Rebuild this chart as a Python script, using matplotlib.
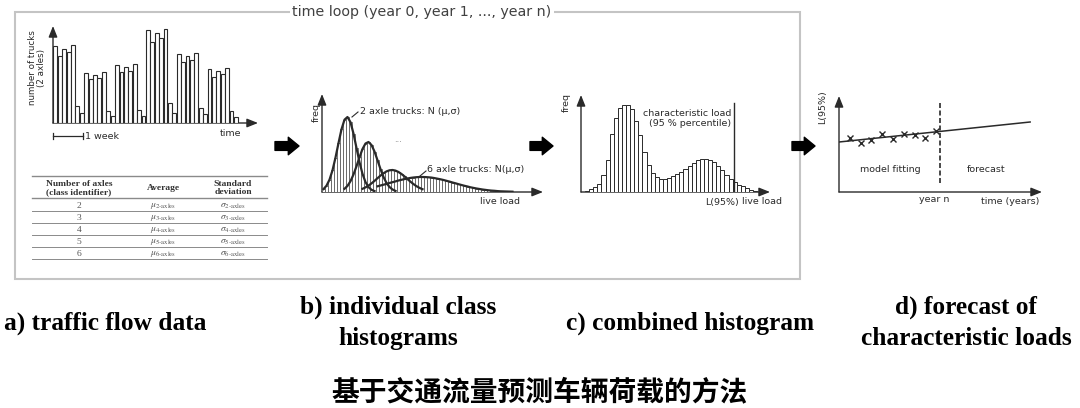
import matplotlib.pyplot as plt
from matplotlib.patches import Rectangle
import numpy as np

plt.rcParams['font.family'] = ['DejaVu Sans']
plt.rcParams['mathtext.fontset'] = 'stix'

# a) daily number of 2-axle trucks, 6 weeks (Mon..Sun)
trucks_per_day = [77, 67, 74, 71, 78, 17, 10,
                  50, 44, 48, 45, 51, 12, 7,
                  58, 51, 56, 52, 59, 13, 7,
                  93, 81, 90, 85, 94, 20, 10,
                  69, 61, 67, 63, 70, 15, 9,
                  54, 46, 52, 49, 55, 12, 6]

# table of a)
axle_classes = ['2', '3', '4', '5', '6']
table_header = ['Number of axles\n(class identifier)', 'Average', 'Standard\ndeviation']

# b) combined histogram of all classes (bins of equal width) and class curves
hist_b = [2.9, 6.3, 12.3, 21.7, 34.4, 48.9, 62.7, 72.3, 75.0, 69.8,
          58.4, 44.0, 34.8, 43.0, 48.5, 50.0, 47.0, 40.5, 31.8, 22.9,
          18.7, 20.6, 21.7, 22.0, 21.4, 20.0, 18.0, 15.6, 13.5, 14.1,
          14.5, 14.8, 15.0, 15.0, 14.9, 14.7, 14.4, 13.9, 13.3, 12.7,
          12.0, 11.2, 10.4, 9.5, 8.7, 7.8, 7.0, 6.2, 5.5, 4.7,
          4.1, 3.5, 3.0, 2.5, 2.1, 1.7, 1.4, 1.2, 1.0, 0.8,
          0.6, 0.5, 0.4, 0.3, 0.3, 0.2, 0.2, 0.2, 0.1, 0.1, 0.1, 0.1, 0.1]
curve_2axle = [2.9, 6.3, 12.3, 21.7, 34.4, 48.9, 62.7, 72.3, 75.0, 69.8,
               58.4, 44.0, 29.8, 18.2, 9.9, 4.9, 2.2, 0.9]
curve_3axle = [3.2, 6.1, 10.8, 17.5, 25.8, 34.8, 43.0, 48.5, 50.0, 47.0,
               40.5, 31.8, 22.9, 15.0, 9.0, 5.0, 2.5, 1.1]
curve_4axle = [3.2, 4.6, 6.4, 8.6, 11.1, 13.8, 16.4, 18.7, 20.6, 21.7,
               22.0, 21.4, 20.0, 18.0, 15.6, 12.9, 10.3, 7.9, 5.8, 4.1, 2.8]
curve_6axle = [5.7, 6.5, 7.3, 8.1, 9.0, 9.8, 10.6, 11.5, 12.2, 12.9,
               13.5, 14.1, 14.5, 14.8, 15.0, 15.0, 14.9, 14.7, 14.4, 13.9,
               13.3, 12.7, 12.0, 11.2, 10.4, 9.5, 8.7, 7.8, 7.0, 6.2,
               5.5, 4.7, 4.1, 3.5, 3.0, 2.5, 2.1, 1.7, 1.4, 1.2,
               0.9, 0.7, 0.6, 0.5, 0.4, 0.3]
curve_first_bin = [0, 7, 13, 18]

# c) combined histogram
hist_c = [1.3, 3, 5, 8.3, 17.3, 32.3, 58.3, 74, 84, 87.3,
          87.3, 83, 71, 57, 40, 27, 19, 15, 13, 13,
          14, 16, 18, 20, 23, 26, 29, 31.7, 33, 33,
          32.3, 29.7, 26.3, 22.3, 17.3, 13, 9.7, 7.3, 5.7, 4,
          2.3, 1.2]
L95_bin = 35.8

# d) yearly characteristic loads and fitted trend
years = [1, 2, 3, 4, 5, 6, 7, 8, 9]
L95_yearly = [54, 49, 52, 58, 53, 58, 57, 54, 61]
trend_years = [0, 17.7]
trend_L95 = [50, 70]
year_n = 9.35

W, H = 1080, 408
INK = '#2a2a2a'

fig = plt.figure(figsize=(10.8, 4.08), dpi=100)
bg = fig.add_axes([0, 0, 1, 1])
bg.set_xlim(0, W)
bg.set_ylim(H, 0)
bg.axis('off')


def panel(x0, y0, w, h, xlim, ylim):
    ax = fig.add_axes([x0 / W, 1 - y0 / H, w / W, h / H])
    ax.set_xlim(*xlim)
    ax.set_ylim(*ylim)
    ax.axis('off')
    return ax


def axis_arrows(ox, oy, xend, ytop):
    for end in [(xend, oy), (ox, ytop)]:
        bg.annotate('', xy=end, xytext=(ox, oy),
                    arrowprops=dict(arrowstyle='-|>,head_length=0.55,head_width=0.22',
                                    mutation_scale=12, lw=1.0, color=INK,
                                    shrinkA=0, shrinkB=0))


def big_arrow(x0, x1, y):
    bg.annotate('', xy=(x1, y), xytext=(x0, y),
                arrowprops=dict(arrowstyle='simple,head_length=0.55,head_width=0.9,tail_width=0.45',
                                mutation_scale=14, color='black', shrinkA=0, shrinkB=0))


small = dict(fontsize=6.8, color=INK)

# outer loop box
bg.add_patch(Rectangle((15, 12), 785, 267, fill=False, edgecolor='#c4c4c4', lw=1.5))
bg.text(422, 12, 'time loop (year 0, year 1, ..., year n)', ha='center', va='center',
        fontsize=10.3, color='#404040', bbox=dict(facecolor='white', edgecolor='none', pad=1.5))

# ---- a) traffic flow data
axis_arrows(53, 123, 258, 26)
axa = panel(53, 123, 190, 97, (-0.545, 42.6), (0, 97))
axa.bar(np.arange(len(trucks_per_day)), trucks_per_day, width=0.88,
        color='white', edgecolor=INK, lw=0.8)
bg.text(37, 68, 'number of trucks\n(2 axles)', rotation=90, ha='center', va='center',
        linespacing=1.0, fontsize=6.3, color=INK)
bg.plot([53, 83], [136, 136], color=INK, lw=0.9)
bg.plot([53, 53], [133, 139], color=INK, lw=0.9)
bg.plot([83, 83], [133, 139], color=INK, lw=0.9)
bg.text(85, 136.5, '1 week', ha='left', va='center', **small)
bg.text(230, 133, 'time', ha='center', va='center', **small)

# table
for y, lw in zip([176, 198, 211, 223, 235, 247, 259], [1.0, 1.0, 0.7, 0.7, 0.7, 0.7, 0.7]):
    bg.plot([32, 267], [y, y], color='#8a8a8a', lw=lw)
for x, label in zip([79, 163, 233], table_header):
    bg.text(x, 188, label, ha='center', va='center', fontsize=6.8, weight='bold',
            family='Liberation Serif', color='#333', linespacing=1.05)
for i, c in enumerate(axle_classes):
    y = 206 + 12 * i
    bg.text(79, y, c, ha='center', va='center', fontsize=6.8, family='Liberation Serif', color='#555')
    bg.text(163, y, r'$\mu_{\mathrm{%s\text{-}axles}}$' % c, ha='center', va='center',
            fontsize=6.8, color='#555')
    bg.text(233, y, r'$\sigma_{\mathrm{%s\text{-}axles}}$' % c, ha='center', va='center',
            fontsize=6.8, color='#555')

big_arrow(275, 299, 146)

# ---- b) individual class histograms
axis_arrows(322, 192, 543, 94)
axb = panel(322, 192, 222, 100, (0, 74), (0, 100))
bins_b = np.arange(len(hist_b)) + 0.5
axb.bar(bins_b, hist_b, width=1.0, color='white', edgecolor='#555', lw=0.55)
for start, vals in zip(curve_first_bin, [curve_2axle, curve_3axle, curve_4axle, curve_6axle]):
    axb.plot(bins_b[start:start + len(vals)], vals, color=INK, lw=1.6)
bg.text(316, 113, 'freq', rotation=90, ha='center', va='center', **small)
bg.plot([352, 358], [117, 112], color=INK, lw=0.8)
bg.text(360, 112, '2 axle trucks: N (\u03bc,\u03c3)', ha='left', va='center', **small)
bg.text(398, 139, '...', ha='center', va='center', fontsize=6, color='#777')
bg.plot([420, 426], [176, 171], color=INK, lw=0.8)
bg.text(427, 169, '6 axle trucks: N(\u03bc,\u03c3)', ha='left', va='center', **small)
bg.text(500, 201, 'live load', ha='center', va='center', **small)

big_arrow(530, 553, 146)

# ---- c) combined histogram
axis_arrows(581, 192, 770, 95)
axc = panel(581, 192, 190, 97, (-1.476, 44.85), (0, 97))
axc.bar(np.arange(len(hist_c)), hist_c, width=1.0, color='white', edgecolor=INK, lw=0.7)
axc.plot([L95_bin, L95_bin], [0, 89], color=INK, lw=1.0)
bg.text(566, 103, 'freq', rotation=90, ha='center', va='center', **small)
bg.text(731, 113, 'characteristic load', ha='right', va='center', **small)
bg.text(731, 124, '(95 % percentile)', ha='right', va='center', **small)
bg.text(739, 202, 'L(95%)', ha='right', va='center', **small)
bg.text(742, 202, 'live load', ha='left', va='center', **small)

big_arrow(792, 815, 146)

# ---- d) forecast
axis_arrows(839, 192, 1042, 96)
axd = panel(839, 192, 203, 96, (0, 18.8), (0, 96))
axd.plot(trend_years, trend_L95, color=INK, lw=1.1)
axd.plot(years, L95_yearly, ls='none', marker='x', ms=4, mew=1.0, color=INK)
axd.plot([year_n, year_n], [9, 89], color=INK, lw=1.2, ls=(0, (3, 1.5)))
bg.text(823, 107, 'L(95%)', rotation=90, ha='center', va='center', **small)
bg.text(890, 170, 'model fitting', ha='center', va='center', **small)
bg.text(986, 170, 'forecast', ha='center', va='center', **small)
bg.text(934, 200, 'year n', ha='center', va='center', **small)
bg.text(1010, 202, 'time (years)', ha='center', va='center', **small)

# captions
cap = dict(fontsize=18.3, weight='bold', family='Liberation Serif', ha='center', va='center',
           color='black', linespacing=1.45)
bg.text(105, 323, 'a) traffic flow data', **cap)
bg.text(398, 323, 'b) individual class\nhistograms', **cap)
bg.text(690, 323, 'c) combined histogram', **cap)
bg.text(966, 323, 'd) forecast of\ncharacteristic loads', **cap)

bg.text(540, 392, '基于交通流量预测车辆荷载的方法', ha='center', va='center', fontsize=20,
        weight='bold', family=['Noto Sans CJK SC', 'DejaVu Sans'], color='black')

fig.savefig('out.png', dpi=100)
